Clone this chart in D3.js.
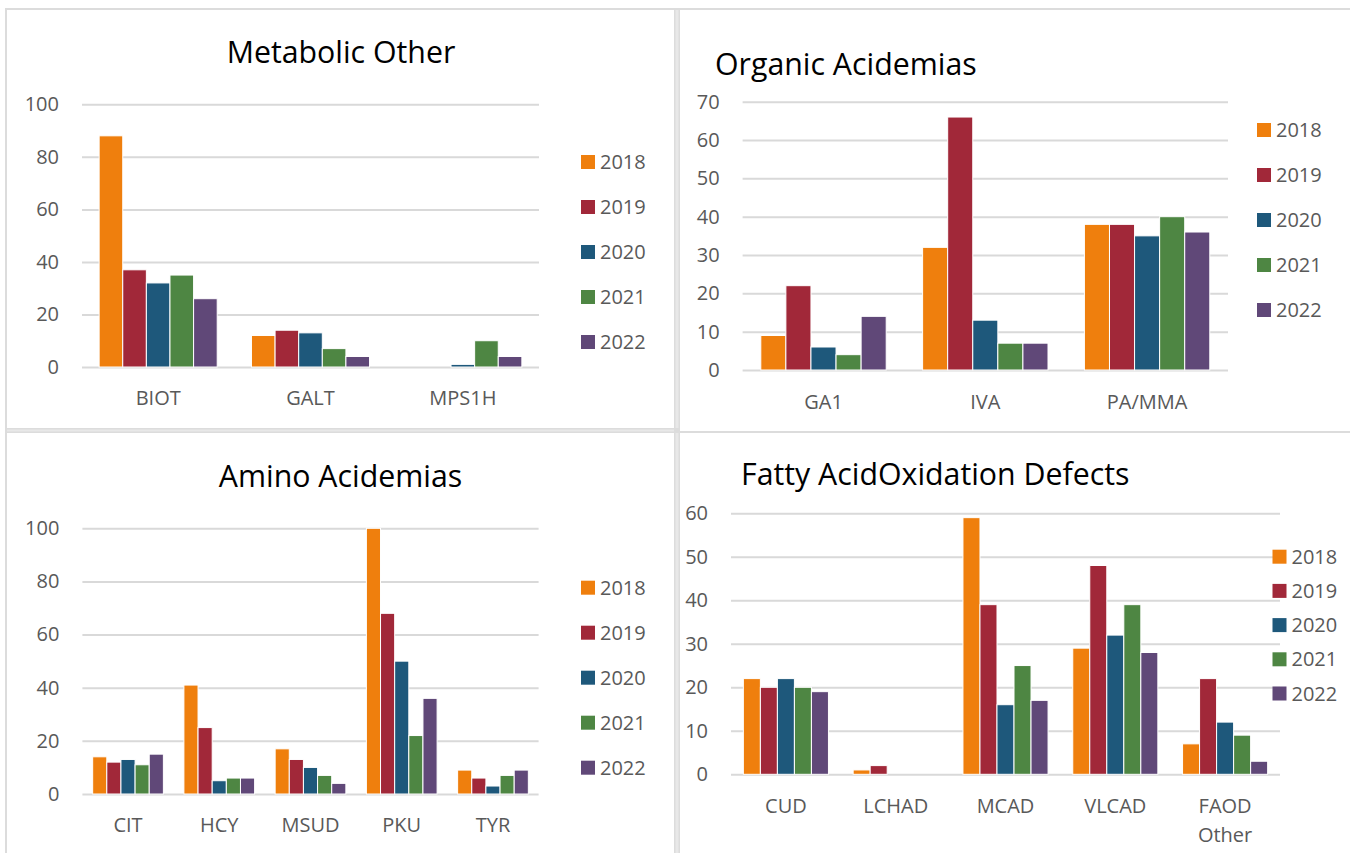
<!DOCTYPE html>
<html>
<head>
<meta charset="utf-8">
<script src="https://cdn.jsdelivr.net/npm/d3@7"></script>
<style>
  html, body { margin: 0; padding: 0; background: #ffffff; }
  svg { display: block; }
  text { font-family: "Open Sans", "Noto Sans", sans-serif; }
</style>
</head>
<body>
<svg id="chart" width="1350" height="853"></svg>
<script>
// ---------- DATA ----------
const years = ["2018", "2019", "2020", "2021", "2022"];
const yearColors = ["#ef7f0d", "#a12839", "#1e587b", "#4e8643", "#604878"];

const metabolicTitle = "Metabolic Other";
const metabolicCategories = ["BIOT", "GALT", "MPS1H"];
const metabolicValues = [
  [88, 37, 32, 35, 26],
  [12, 14, 13, 7, 4],
  [0, 0, 1, 10, 4]
];
const metabolicTicks = [0, 20, 40, 60, 80, 100];

const organicTitle = "Organic Acidemias";
const organicCategories = ["GA1", "IVA", "PA/MMA"];
const organicValues = [
  [9, 22, 6, 4, 14],
  [32, 66, 13, 7, 7],
  [38, 38, 35, 40, 36]
];
const organicTicks = [0, 10, 20, 30, 40, 50, 60, 70];

const aminoTitle = "Amino Acidemias";
const aminoCategories = ["CIT", "HCY", "MSUD", "PKU", "TYR"];
const aminoValues = [
  [14, 12, 13, 11, 15],
  [41, 25, 5, 6, 6],
  [17, 13, 10, 7, 4],
  [100, 68, 50, 22, 36],
  [9, 6, 3, 7, 9]
];
const aminoTicks = [0, 20, 40, 60, 80, 100];

const fattyTitle = "Fatty AcidOxidation Defects";
const fattyCategories = [["CUD"], ["LCHAD"], ["MCAD"], ["VLCAD"], ["FAOD", "Other"]];
const fattyValues = [
  [22, 20, 22, 20, 19],
  [1, 2, 0, 0, 0],
  [59, 39, 16, 25, 17],
  [29, 48, 32, 39, 28],
  [7, 22, 12, 9, 3]
];
const fattyTicks = [0, 10, 20, 30, 40, 50, 60];

// ---------- DRAWING ----------
const svg = d3.select("#chart");
const borderColor = "#dcdcdc";
const gridColor = "#d9d9d9";
const labelColor = "#595959";

// panel frames
svg.append("rect").attr("x", 5).attr("y", 8).attr("width", 1345).attr("height", 2).attr("fill", borderColor);
svg.append("rect").attr("x", 5).attr("y", 8).attr("width", 2).attr("height", 845).attr("fill", borderColor);
svg.append("rect").attr("x", 674).attr("y", 8).attr("width", 6).attr("height", 845).attr("fill", borderColor);
svg.append("rect").attr("x", 675.5).attr("y", 10).attr("width", 3).attr("height", 843).attr("fill", "#e8e8e8");
svg.append("rect").attr("x", 5).attr("y", 428).attr("width", 675).attr("height", 5).attr("fill", borderColor);
svg.append("rect").attr("x", 7).attr("y", 429.5).attr("width", 667).attr("height", 2).attr("fill", "#e8e8e8");
svg.append("rect").attr("x", 680).attr("y", 431).attr("width", 670).attr("height", 2).attr("fill", borderColor);

function drawPanel(p) {
  const g = svg.append("g");
  const y = d3.scaleLinear().domain([0, p.ticks[p.ticks.length - 1]]).range([p.yZero, p.yTop]);
  const x = d3.scaleBand().domain(d3.range(p.categories.length)).range([p.x0, p.x1])
    .paddingInner(0.225).paddingOuter(0.1125);
  const xs = d3.scaleBand().domain(years).range([0, x.bandwidth()]).padding(0);

  // gridlines
  const yAxis = d3.axisLeft(y).tickValues(p.ticks).tickSize(-(p.x1 - p.x0)).tickPadding(23)
    .tickFormat(d3.format("d"));
  const ax = g.append("g").attr("transform", `translate(${p.x0},0)`).call(yAxis);
  ax.select(".domain").remove();
  ax.selectAll(".tick line").attr("stroke", gridColor).attr("stroke-width", 2);
  ax.selectAll(".tick text").attr("fill", labelColor).style("font-size", "20px")
    .style("font-family", '"Open Sans", sans-serif');

  // bars
  p.values.forEach((row, ci) => {
    g.selectAll(null).data(row.map((v, si) => ({ v, si }))).enter()
      .append("rect")
      .filter(d => d.v > 0)
      .attr("x", d => x(ci) + xs(years[d.si]))
      .attr("y", d => y(d.v))
      .attr("width", xs.bandwidth())
      .attr("height", d => y(0) - y(d.v))
      .attr("fill", d => yearColors[d.si])
      .attr("stroke", "#ffffff")
      .attr("stroke-width", 1);
  });

  // category labels
  p.categories.forEach((c, ci) => {
    const lines = Array.isArray(c) ? c : [c];
    const t = g.append("text")
      .attr("x", x(ci) + x.bandwidth() / 2)
      .attr("y", p.yZero + p.catOffset)
      .attr("text-anchor", "middle")
      .attr("fill", labelColor)
      .style("font-size", "20px");
    lines.forEach((l, li) => {
      t.append("tspan").attr("x", x(ci) + x.bandwidth() / 2)
        .attr("dy", li === 0 ? "0.35em" : "1.45em").text(l);
    });
  });

  // title
  g.append("text")
    .attr("x", p.titleX).attr("y", p.titleY)
    .attr("text-anchor", p.titleAnchor)
    .attr("fill", "#000000")
    .style("font-size", "30.3px")
    .text(p.title);

  // legend
  years.forEach((yr, i) => {
    const cy = p.legY + i * p.legStep;
    g.append("rect").attr("x", p.legX).attr("y", cy - 7).attr("width", 14).attr("height", 14)
      .attr("fill", yearColors[i]);
    g.append("text").attr("x", p.legX + 19).attr("y", cy).attr("dy", "0.35em")
      .attr("fill", labelColor).style("font-size", "20px").text(yr);
  });
}

drawPanel({
  title: metabolicTitle, categories: metabolicCategories, values: metabolicValues, ticks: metabolicTicks,
  x0: 82, x1: 539, yTop: 104.3, yZero: 367, catOffset: 31,
  titleX: 341, titleY: 62.5, titleAnchor: "middle",
  legX: 581, legY: 162, legStep: 45
});
drawPanel({
  title: organicTitle, categories: organicCategories, values: organicValues, ticks: organicTicks,
  x0: 742.6, x1: 1228, yTop: 101.7, yZero: 370, catOffset: 31.5,
  titleX: 715, titleY: 75, titleAnchor: "start",
  legX: 1257, legY: 130, legStep: 45
});
drawPanel({
  title: aminoTitle, categories: aminoCategories, values: aminoValues, ticks: aminoTicks,
  x0: 82.4, x1: 538.6, yTop: 528.3, yZero: 794, catOffset: 30.5,
  titleX: 340.5, titleY: 486.5, titleAnchor: "middle",
  legX: 581, legY: 587.7, legStep: 45
});
drawPanel({
  title: fattyTitle, categories: fattyCategories, values: fattyValues, ticks: fattyTicks,
  x0: 731, x1: 1280, yTop: 513.3, yZero: 774.3, catOffset: 31.5,
  titleX: 741, titleY: 485, titleAnchor: "start",
  legX: 1272.5, legY: 556.7, legStep: 34.2
});
</script>
</body>
</html>
